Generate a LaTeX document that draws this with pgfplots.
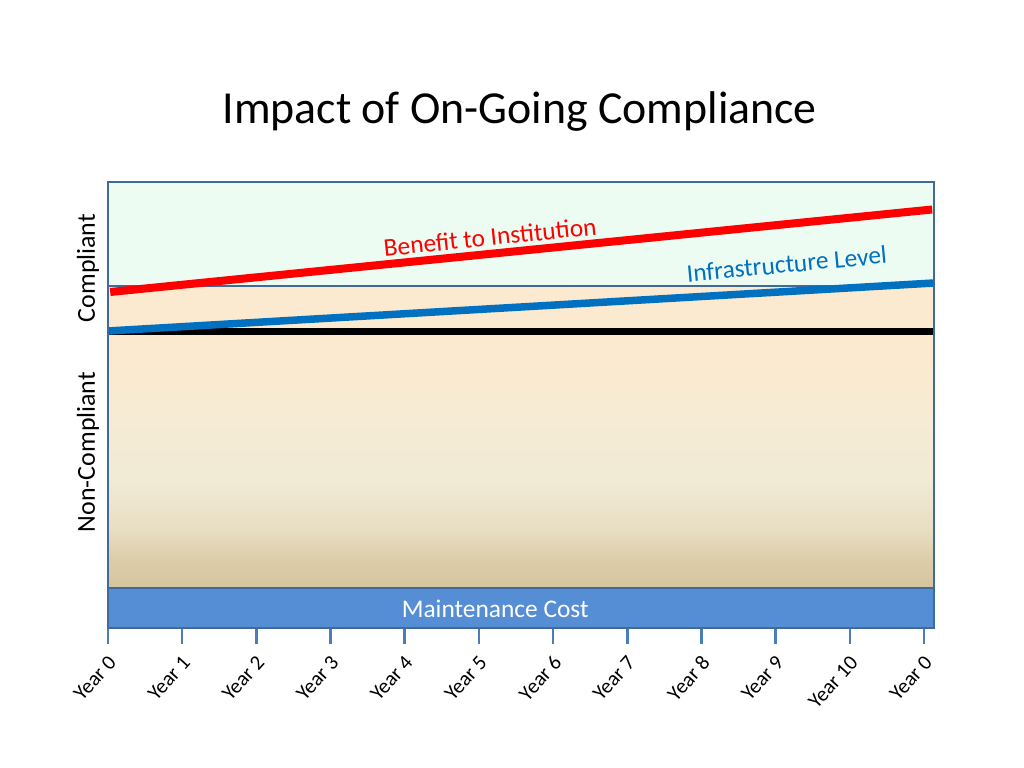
\documentclass[border=0pt]{standalone}
\usepackage{pgfplots}
\pgfplotsset{compat=1.18}
\usepackage{fontspec}
\setmainfont{Carlito}

\definecolor{mint}{HTML}{EDFCF2}
\definecolor{peach}{HTML}{FBEACF}
\definecolor{peachb}{HTML}{F6EBD5}
\definecolor{cream}{HTML}{F1EAD5}
\definecolor{sand}{HTML}{E8DEC2}
\definecolor{sandb}{HTML}{DCCDA9}
\definecolor{tan}{HTML}{D5C59F}
\definecolor{boxline}{HTML}{41699A}
\definecolor{tickc}{HTML}{4A7EBB}
\definecolor{maint}{HTML}{558ED5}
\definecolor{infra}{HTML}{0070C0}

% the region's box is mapped onto 25bp..75bp of the shading
\pgfdeclareverticalshading{noncompliant}{100bp}{color(0bp)=(tan); color(25bp)=(tan); color(29.6bp)=(sandb); color(34.6bp)=(sand); color(42.9bp)=(cream); color(52.8bp)=(peachb); color(62.7bp)=(peach); color(100bp)=(peach)}

\begin{document}
\begin{tikzpicture}
\path[use as bounding box] (0,0) rectangle (1024bp,768bp);
\begin{axis}[
    at={(108bp,140bp)}, anchor=south west,
    scale only axis,
    width=826bp, height=446bp,
    xmin=0, xmax=11.135,
    ymin=0, ymax=446,
    clip=false,
    axis line style={boxline, line width=2bp},
    xtick={0,...,11},
    xticklabels={Year 0, Year 1, Year 2, Year 3, Year 4, Year 5, Year 6, Year 7, Year 8, Year 9, Year 10, Year 0},
    xticklabel style={xshift=-1bp, yshift=-10bp, rotate=48, anchor=north east, font=\fontsize{21}{22}\selectfont, inner sep=0bp},
    ytick=\empty,
    tick align=outside,
    major tick length=16bp,
    x tick style={tickc, line width=2.5bp},
    xtick pos=bottom,
    axis on top,
]

% regions
\addplot[draw=none, fill=mint] coordinates {(0,342) (11.135,342) (11.135,446) (0,446)} --cycle;
\addplot[draw=none, shading=noncompliant] coordinates {(0,40) (11.135,40) (11.135,342) (0,342)} --cycle;
\addplot[draw=boxline, line width=2bp, fill=maint] coordinates {(0,0) (11.135,0) (11.135,40) (0,40)} --cycle;
\addplot[boxline, line width=2bp] coordinates {(0,342) (11.135,342)};

% lines
\addplot[black, line width=7bp] coordinates {(0,296) (11.135,296)};
\addplot[infra, line width=7.5bp] coordinates {(0,297) (11.135,345)};
\addplot[red, line width=8bp] coordinates {(0.03,336) (11.11,418.5)};

% labels
\node[red, rotate=5.9, font=\fontsize{25.5}{28}\selectfont] at (axis cs:5.15,391) {Benefit to Institution};
\node[infra, rotate=5.4, font=\fontsize{25.5}{28}\selectfont] at (axis cs:9.15,364) {Infrastructure Level};
\node[white, font=\fontsize{25.5}{28}\selectfont] at (axis cs:5.22,19) {Maintenance Cost};
\node[rotate=90, font=\fontsize{26}{28}\selectfont] at (axis cs:-0.27,360) {Compliant};
\node[rotate=90, font=\fontsize{26}{28}\selectfont] at (axis cs:-0.27,176) {Non-Compliant};
\node[font=\fontsize{46}{50}\selectfont] at (axis cs:5.55,516) {Impact of On-Going Compliance};
\end{axis}
\end{tikzpicture}
\end{document}
